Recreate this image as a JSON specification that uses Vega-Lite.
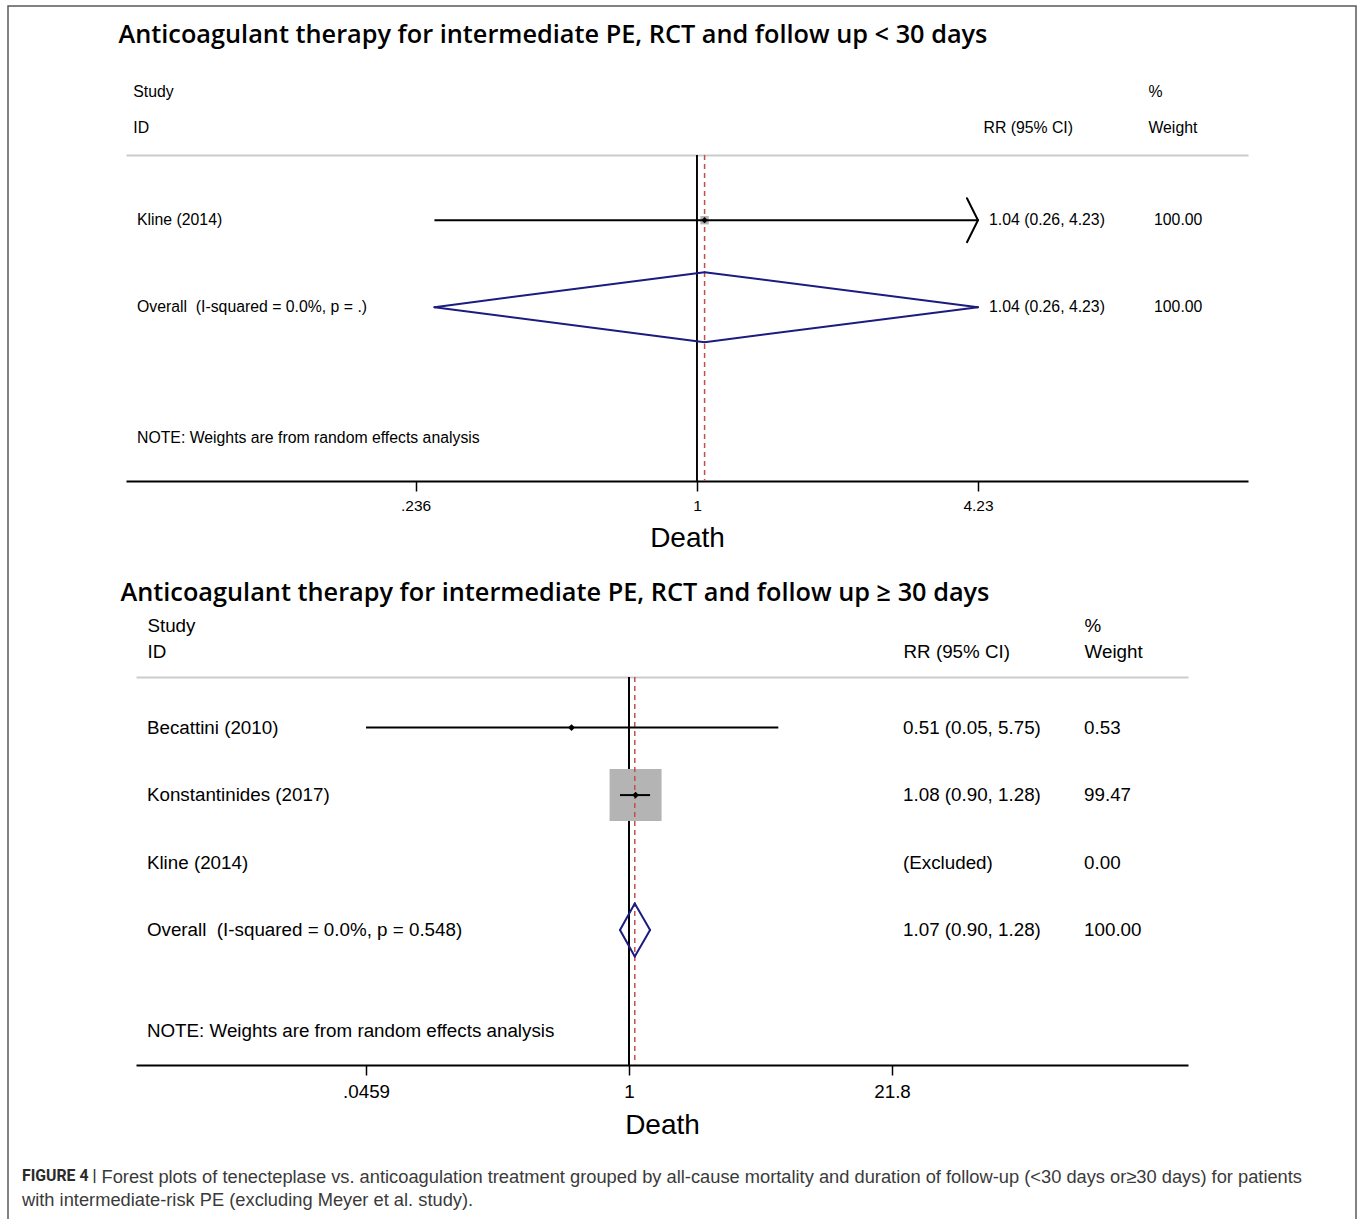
{
  "$schema": "https://vega.github.io/schema/vega-lite/v6.json",
  "width": 1348,
  "height": 1215,
  "autosize": {"type": "none"},
  "padding": {"left": 8, "top": 6, "right": 1, "bottom": 0},
  "background": "white",
  "config": {
    "font": "Liberation Sans",
    "view": {"stroke": "#5a5a5a", "strokeWidth": 1.5},
    "axis": {"grid": false, "labelFont": "Liberation Sans", "titleFont": "Liberation Sans"}
  },
  "title": {
    "text": "FIGURE 4 |",
    "subtitle": "with intermediate-risk PE (excluding Meyer et al. study).",
    "orient": "bottom",
    "anchor": "start",
    "frame": "group",
    "offset": -51.7,
    "dx": 14,
    "font": "Roboto",
    "fontSize": 15.8,
    "fontWeight": "bold",
    "color": "#2a2a2a",
    "subtitleFont": "Liberation Sans",
    "subtitleFontSize": 18.3,
    "subtitleColor": "#3a3a3a",
    "subtitlePadding": 6.7
  },
  "datasets": {
    "early": [
      {"row": 1, "type": "study", "study": "Kline (2014)", "rr": 1.04, "lo": 0.26, "hi": 4.23, "ci": "1.04 (0.26, 4.23)", "weight": "100.00", "w": 100},
      {"row": 2, "type": "overall", "study": "Overall\u00a0 (I-squared = 0.0%, p = .)", "rr": 1.04, "lo": 0.26, "hi": 4.23, "ci": "1.04 (0.26, 4.23)", "weight": "100.00", "w": 100},
      {"row": 3.5, "type": "note", "study": "NOTE: Weights are from random effects analysis"}
    ],
    "late": [
      {"row": 1, "type": "study", "study": "Becattini (2010)", "rr": 0.51, "lo": 0.0459, "hi": 5.75, "ci": "0.51 (0.05, 5.75)", "weight": "0.53", "w": 0.53},
      {"row": 2, "type": "study", "study": "Konstantinides (2017)", "rr": 1.08, "lo": 0.9, "hi": 1.28, "ci": "1.08 (0.90, 1.28)", "weight": "99.47", "w": 99.47},
      {"row": 3, "type": "study", "study": "Kline (2014)", "rr": null, "lo": null, "hi": null, "ci": "(Excluded)", "weight": "0.00", "w": 0},
      {"row": 4, "type": "overall", "study": "Overall\u00a0 (I-squared = 0.0%, p = 0.548)", "rr": 1.07, "lo": 0.9, "hi": 1.28, "ci": "1.07 (0.90, 1.28)", "weight": "100.00", "w": 100},
      {"row": 5.5, "type": "note", "study": "NOTE: Weights are from random effects analysis"}
    ]
  },
  "layer": [
    {
      "data": {"name": "early"},
      "layer": [
        {
          "mark": {"type": "rule", "color": "black", "strokeWidth": 1.3},
          "encoding": {
            "x": {
              "datum": 1, "type": "quantitative",
              "scale": {"type": "log", "domain": [0.0534, 16.91], "range": [118, 1240], "nice": false},
              "axis": {
                "orient": "bottom", "offset": -740, "values": [0.236, 1, 4.23],
                "labelExpr": "datum.value < 1 ? substring(toString(datum.value), 1) : toString(datum.value)",
                "tickSize": 10, "tickWidth": 1.5, "tickColor": "black",
                "domainColor": "black", "domainWidth": 2,
                "labelFontSize": 15.5, "labelPadding": 7, "labelColor": "black",
                "labelFlush": false, "labelOverlap": false,
                "title": "Death", "titleFontSize": 28, "titleFontWeight": "normal", "titleColor": "black",
                "titleY": 65, "titleBaseline": "alphabetic"
              }
            },
            "y": {"datum": 0.25, "type": "quantitative", "scale": {"domain": [0.25, 4], "range": [149, 475], "nice": false, "zero": false}, "axis": null},
            "y2": {"datum": 4}
          }
        },
        {
          "transform": [{"filter": "datum.type == 'study' && isValid(datum.rr)"}],
          "mark": {"type": "point", "shape": "square", "filled": true, "color": "#b4b4b4", "opacity": 1},
          "encoding": {
            "x": {"field": "rr", "type": "quantitative", "axis": null},
            "y": {"field": "row", "type": "quantitative", "axis": null},
            "size": {"field": "w", "type": "quantitative", "scale": {"domain": [0, 100], "range": [0, 70]}, "legend": null}
          }
        },
        {
          "transform": [{"filter": "datum.type == 'overall'"}],
          "mark": {"type": "rule", "color": "#c0504d", "strokeDash": [5, 4], "strokeWidth": 1.5},
          "encoding": {
            "x": {
              "field": "rr", "type": "quantitative",
              "axis": {
                "orient": "top", "offset": -149, "values": [0.0553, 4.34, 10.12],
                "labelExpr": "datum.value < 0.1 ? ['Study', 'ID'] : datum.value < 5 ? ['', 'RR (95% CI)'] : ['%', 'Weight']",
                "ticks": false, "domainColor": "#cccccc", "domainWidth": 2,
                "labelAlign": "left", "labelBaseline": "bottom", "labelLineHeight": 36,
                "labelFontSize": 15.8, "labelPadding": 56, "labelColor": "black",
                "labelFlush": false, "labelOverlap": false, "labelBound": false,
                "title": "Anticoagulant therapy for intermediate PE, RCT and follow up < 30 days",
                "titleFont": "Open Sans", "titleFontSize": 25.3, "titleFontWeight": 600, "titleColor": "black",
                "titleAlign": "left", "titleBaseline": "alphabetic", "titleX": 110, "titleY": -113
              }
            },
            "y": {"datum": 0.25, "type": "quantitative", "axis": null},
            "y2": {"datum": 4}
          }
        },
        {
          "transform": [{"filter": "datum.type == 'study' && isValid(datum.rr)"}],
          "mark": {"type": "rule", "color": "black", "strokeWidth": 2},
          "encoding": {
            "x": {"field": "lo", "type": "quantitative", "axis": null},
            "x2": {"field": "hi"},
            "y": {"field": "row", "type": "quantitative", "axis": null}
          }
        },
        {
          "transform": [{"filter": "datum.type == 'study' && isValid(datum.rr)"}],
          "mark": {"type": "rule", "color": "black", "strokeWidth": 2, "strokeCap": "round", "xOffset": -11, "yOffset": -22},
          "encoding": {
            "x": {"field": "hi", "type": "quantitative", "axis": null},
            "x2": {"field": "hi"},
            "y": {"field": "row", "type": "quantitative", "axis": null},
            "y2": {"field": "row"}
          }
        },
        {
          "transform": [{"filter": "datum.type == 'study' && isValid(datum.rr)"}],
          "mark": {"type": "rule", "color": "black", "strokeWidth": 2, "strokeCap": "round", "xOffset": -11, "yOffset": 22},
          "encoding": {
            "x": {"field": "hi", "type": "quantitative", "axis": null},
            "x2": {"field": "hi"},
            "y": {"field": "row", "type": "quantitative", "axis": null},
            "y2": {"field": "row"}
          }
        },
        {
          "transform": [{"filter": "datum.type == 'study' && isValid(datum.rr)"}],
          "mark": {"type": "point", "shape": "diamond", "filled": true, "color": "black", "size": 40, "opacity": 1},
          "encoding": {
            "x": {"field": "rr", "type": "quantitative", "axis": null},
            "y": {"field": "row", "type": "quantitative", "axis": null}
          }
        },
        {
          "transform": [{"filter": "datum.type == 'overall'"}],
          "mark": {"type": "rule", "color": "#1b1b80", "strokeWidth": 2, "strokeCap": "round", "y2Offset": -35},
          "encoding": {
            "x": {"field": "lo", "type": "quantitative", "axis": null},
            "x2": {"field": "rr"},
            "y": {"field": "row", "type": "quantitative", "axis": null},
            "y2": {"field": "row"}
          }
        },
        {
          "transform": [{"filter": "datum.type == 'overall'"}],
          "mark": {"type": "rule", "color": "#1b1b80", "strokeWidth": 2, "strokeCap": "round", "y2Offset": 35},
          "encoding": {
            "x": {"field": "lo", "type": "quantitative", "axis": null},
            "x2": {"field": "rr"},
            "y": {"field": "row", "type": "quantitative", "axis": null},
            "y2": {"field": "row"}
          }
        },
        {
          "transform": [{"filter": "datum.type == 'overall'"}],
          "mark": {"type": "rule", "color": "#1b1b80", "strokeWidth": 2, "strokeCap": "round", "yOffset": -35},
          "encoding": {
            "x": {"field": "rr", "type": "quantitative", "axis": null},
            "x2": {"field": "hi"},
            "y": {"field": "row", "type": "quantitative", "axis": null},
            "y2": {"field": "row"}
          }
        },
        {
          "transform": [{"filter": "datum.type == 'overall'"}],
          "mark": {"type": "rule", "color": "#1b1b80", "strokeWidth": 2, "strokeCap": "round", "yOffset": 35},
          "encoding": {
            "x": {"field": "rr", "type": "quantitative", "axis": null},
            "x2": {"field": "hi"},
            "y": {"field": "row", "type": "quantitative", "axis": null},
            "y2": {"field": "row"}
          }
        },
        {
          "mark": {"type": "text", "align": "left", "baseline": "middle", "fontSize": 15.8, "color": "black"},
          "encoding": {
            "x": {"datum": 0.0565, "type": "quantitative", "axis": null},
            "y": {"field": "row", "type": "quantitative", "axis": null},
            "text": {"field": "study", "type": "nominal"}
          }
        },
        {
          "transform": [{"filter": "isValid(datum.ci)"}],
          "mark": {"type": "text", "align": "left", "baseline": "middle", "fontSize": 15.8, "color": "black"},
          "encoding": {
            "x": {"datum": 4.476, "type": "quantitative", "axis": null},
            "y": {"field": "row", "type": "quantitative", "axis": null},
            "text": {"field": "ci", "type": "nominal"}
          }
        },
        {
          "transform": [{"filter": "isValid(datum.weight)"}],
          "mark": {"type": "text", "align": "left", "baseline": "middle", "fontSize": 15.8, "color": "black"},
          "encoding": {
            "x": {"datum": 10.44, "type": "quantitative", "axis": null},
            "y": {"field": "row", "type": "quantitative", "axis": null},
            "text": {"field": "weight", "type": "nominal"}
          }
        }
      ],
      "resolve": {"axis": {"x": "independent"}}
    },
    {
      "data": {"name": "late"},
      "layer": [
        {
          "mark": {"type": "rule", "color": "black", "strokeWidth": 1.3},
          "encoding": {
            "x": {
              "datum": 1, "type": "quantitative",
              "scale": {"type": "log", "domain": [0.0031, 699], "range": [128, 1180], "nice": false},
              "axis": {
                "orient": "bottom", "offset": -156, "values": [0.0459, 1, 21.8],
                "labelExpr": "datum.value < 1 ? substring(toString(datum.value), 1) : toString(datum.value)",
                "tickSize": 10, "tickWidth": 1.5, "tickColor": "black",
                "domainColor": "black", "domainWidth": 2,
                "labelFontSize": 18.8, "labelPadding": 7, "labelColor": "black",
                "labelFlush": false, "labelOverlap": false,
                "title": "Death", "titleFontSize": 28, "titleFontWeight": "normal", "titleColor": "black",
                "titleY": 68, "titleBaseline": "alphabetic"
              }
            },
            "y": {"datum": 0.25, "type": "quantitative", "scale": {"domain": [0.25, 6], "range": [671, 1059], "nice": false, "zero": false}, "axis": null},
            "y2": {"datum": 6}
          }
        },
        {
          "transform": [{"filter": "datum.type == 'study' && isValid(datum.rr)"}],
          "mark": {"type": "point", "shape": "square", "filled": true, "color": "#b4b4b4", "opacity": 1},
          "encoding": {
            "x": {"field": "rr", "type": "quantitative", "axis": null},
            "y": {"field": "row", "type": "quantitative", "axis": null},
            "size": {"field": "w", "type": "quantitative", "scale": {"domain": [0, 100], "range": [0, 2718]}, "legend": null}
          }
        },
        {
          "transform": [{"filter": "datum.type == 'overall'"}],
          "mark": {"type": "rule", "color": "#c0504d", "strokeDash": [5, 4], "strokeWidth": 1.5},
          "encoding": {
            "x": {
              "field": "rr", "type": "quantitative",
              "axis": {
                "orient": "top", "offset": -671, "values": [0.003523, 24.8, 206.8],
                "labelExpr": "datum.value < 0.01 ? ['Study', 'ID'] : datum.value < 100 ? ['', 'RR (95% CI)'] : ['%', 'Weight']",
                "ticks": false, "domainColor": "#cccccc", "domainWidth": 2,
                "labelAlign": "left", "labelBaseline": "bottom", "labelLineHeight": 26,
                "labelFontSize": 18.8, "labelPadding": 42, "labelColor": "black",
                "labelFlush": false, "labelOverlap": false, "labelBound": false,
                "title": "Anticoagulant therapy for intermediate PE, RCT and follow up ≥ 30 days",
                "titleFont": "Open Sans", "titleFontSize": 25.3, "titleFontWeight": 600, "titleColor": "black",
                "titleAlign": "left", "titleBaseline": "alphabetic", "titleX": 112, "titleY": -77
              }
            },
            "y": {"datum": 0.25, "type": "quantitative", "axis": null},
            "y2": {"datum": 6}
          }
        },
        {
          "transform": [{"filter": "datum.type == 'study' && isValid(datum.rr)"}],
          "mark": {"type": "rule", "color": "black", "strokeWidth": 2},
          "encoding": {
            "x": {
              "field": "lo", "type": "quantitative",
              "axis": {
                "orient": "bottom", "offset": -156, "domain": false, "ticks": false, "labels": false,
                "title": "Forest plots of tenecteplase vs. anticoagulation treatment grouped by all-cause mortality and duration of follow-up (<30 days or≥30 days) for patients",
                "titleFont": "Liberation Sans", "titleFontSize": 18.3, "titleFontWeight": "normal", "titleColor": "#3a3a3a",
                "titleAlign": "left", "titleBaseline": "alphabetic", "titleX": 93, "titleY": 117.4
              }
            },
            "x2": {"field": "hi"},
            "y": {"field": "row", "type": "quantitative", "axis": null}
          }
        },
        {
          "transform": [{"filter": "datum.type == 'study' && isValid(datum.rr)"}],
          "mark": {"type": "point", "shape": "diamond", "filled": true, "color": "black", "size": 45, "opacity": 1},
          "encoding": {
            "x": {"field": "rr", "type": "quantitative", "axis": null},
            "y": {"field": "row", "type": "quantitative", "axis": null}
          }
        },
        {
          "transform": [{"filter": "datum.type == 'overall'"}],
          "mark": {"type": "rule", "color": "#1b1b80", "strokeWidth": 2, "strokeCap": "round", "y2Offset": -26.5},
          "encoding": {
            "x": {"field": "lo", "type": "quantitative", "axis": null},
            "x2": {"field": "rr"},
            "y": {"field": "row", "type": "quantitative", "axis": null},
            "y2": {"field": "row"}
          }
        },
        {
          "transform": [{"filter": "datum.type == 'overall'"}],
          "mark": {"type": "rule", "color": "#1b1b80", "strokeWidth": 2, "strokeCap": "round", "y2Offset": 26.5},
          "encoding": {
            "x": {"field": "lo", "type": "quantitative", "axis": null},
            "x2": {"field": "rr"},
            "y": {"field": "row", "type": "quantitative", "axis": null},
            "y2": {"field": "row"}
          }
        },
        {
          "transform": [{"filter": "datum.type == 'overall'"}],
          "mark": {"type": "rule", "color": "#1b1b80", "strokeWidth": 2, "strokeCap": "round", "yOffset": -26.5},
          "encoding": {
            "x": {"field": "rr", "type": "quantitative", "axis": null},
            "x2": {"field": "hi"},
            "y": {"field": "row", "type": "quantitative", "axis": null},
            "y2": {"field": "row"}
          }
        },
        {
          "transform": [{"filter": "datum.type == 'overall'"}],
          "mark": {"type": "rule", "color": "#1b1b80", "strokeWidth": 2, "strokeCap": "round", "yOffset": 26.5},
          "encoding": {
            "x": {"field": "rr", "type": "quantitative", "axis": null},
            "x2": {"field": "hi"},
            "y": {"field": "row", "type": "quantitative", "axis": null},
            "y2": {"field": "row"}
          }
        },
        {
          "mark": {"type": "text", "align": "left", "baseline": "middle", "fontSize": 18.8, "color": "black"},
          "encoding": {
            "x": {"datum": 0.003523, "type": "quantitative", "axis": null},
            "y": {"field": "row", "type": "quantitative", "axis": null},
            "text": {"field": "study", "type": "nominal"}
          }
        },
        {
          "transform": [{"filter": "isValid(datum.ci)"}],
          "mark": {"type": "text", "align": "left", "baseline": "middle", "fontSize": 18.8, "color": "black"},
          "encoding": {
            "x": {"datum": 24.8, "type": "quantitative", "axis": null},
            "y": {"field": "row", "type": "quantitative", "axis": null},
            "text": {"field": "ci", "type": "nominal"}
          }
        },
        {
          "transform": [{"filter": "isValid(datum.weight)"}],
          "mark": {"type": "text", "align": "left", "baseline": "middle", "fontSize": 18.8, "color": "black"},
          "encoding": {
            "x": {"datum": 206.8, "type": "quantitative", "axis": null},
            "y": {"field": "row", "type": "quantitative", "axis": null},
            "text": {"field": "weight", "type": "nominal"}
          }
        }
      ],
      "resolve": {"axis": {"x": "independent"}}
    }
  ],
  "resolve": {
    "scale": {"x": "independent", "y": "independent", "size": "independent"},
    "axis": {"x": "independent", "y": "independent"}
  }
}
